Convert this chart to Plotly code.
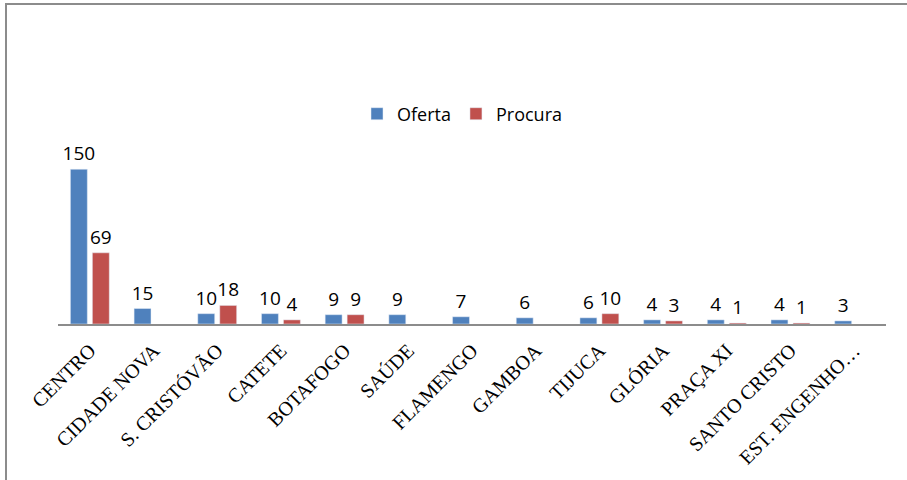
import plotly.graph_objects as go

categories = ["CENTRO", "CIDADE NOVA", "S. CRISTÓVÃO", "CATETE", "BOTAFOGO", "SAÚDE",
              "FLAMENGO", "GAMBOA", "TIJUCA", "GLÓRIA", "PRAÇA XI", "SANTO CRISTO",
              "EST. ENGENHO…"]
oferta = [150, 15, 10, 10, 9, 9, 7, 6, 6, 4, 4, 4, 3]
procura = [69, None, 18, 4, 9, None, None, None, 10, 3, 1, 1, None]

W, H = 907, 480
L, R, T, B = 58, 21, 64, 156
PW, PH = W - L - R, H - T - B

def px_x(px):
    return (px - L) / PW

def px_y(py):
    return (H - B - py) / PH

label_font = dict(family="Open Sans, Liberation Sans, sans-serif", size=19, color="#000000")

fig = go.Figure()
fig.add_trace(go.Bar(
    name="Oferta", x=categories, y=oferta, marker_color="#4f81bd",
    text=[str(v) for v in oferta], textposition="outside", textfont=label_font,
    constraintext="none", cliponaxis=False,
))
fig.add_trace(go.Bar(
    name="Procura", x=categories, y=procura, marker_color="#c0504d",
    text=[("" if v is None else str(v)) for v in procura], textposition="outside",
    textfont=label_font, constraintext="none", cliponaxis=False,
))

fig.update_layout(
    width=W, height=H,
    margin=dict(l=L, r=R, t=T, b=B, pad=0, autoexpand=False),
    paper_bgcolor="white", plot_bgcolor="white",
    barmode="group", bargap=0.31, bargroupgap=0.23,
    showlegend=True,
    legend=dict(orientation="h", x=px_x(462), xanchor="center", y=px_y(114), yanchor="middle",
                font=dict(family="Open Sans, Liberation Sans, sans-serif", size=18, color="#000000"),
                itemwidth=30, bgcolor="rgba(0,0,0,0)"),
    xaxis=dict(type="category", showline=True, linecolor="#8c8c8c", linewidth=2,
               ticks="outside", ticklen=5, tickcolor="rgba(0,0,0,0)", tickangle=-45,
               showgrid=False, automargin=False,
               tickfont=dict(family="Liberation Serif, Times New Roman, serif", size=20, color="#000000")),
    yaxis=dict(range=[0, 252], visible=False, showgrid=False, zeroline=False),
    shapes=[dict(type="rect", xref="paper", yref="paper",
                 x0=px_x(6), x1=px_x(930), y0=px_y(500), y1=px_y(4),
                 line=dict(color="#8c8c8c", width=2), fillcolor="rgba(0,0,0,0)", layer="below")],
)

fig.write_html("out.html", config={"displayModeBar": False},
               post_script="document.body.style.margin='0';document.body.style.padding='0';")
